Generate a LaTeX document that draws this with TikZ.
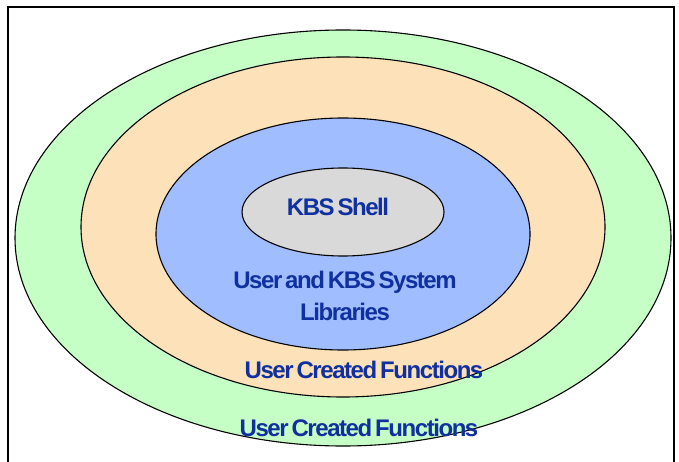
\documentclass[tikz,border=0pt]{standalone}
\usepackage{fontspec}
\setmainfont{Liberation Sans}
\newfontfamily\lblfont{Liberation Sans}[LetterSpace=-6,WordSpace=0.55]
\definecolor{ringgreen}{RGB}{198,255,198}
\definecolor{ringpeach}{RGB}{252,225,185}
\definecolor{ringblue}{RGB}{160,190,255}
\definecolor{coregray}{RGB}{217,217,217}
\definecolor{labelblue}{RGB}{16,48,160}
\tikzset{
  ring/.style={draw=black, line width=1.1pt},
  lbl/.style={text=labelblue, font=\lblfont\fontsize{24}{32}\selectfont\bfseries, align=center, inner sep=0pt}
}
\begin{document}
\begin{tikzpicture}[x=1pt,y=-1pt]
\useasboundingbox (0,0) rectangle (679,462);
\fill[white] (0,0) rectangle (679,462);
\draw[line width=2.5pt] (8,464) -- (8,7) -- (674,7) -- (674,464);
\filldraw[ring, fill=ringgreen] (343,238) ellipse [x radius=328, y radius=208];
\filldraw[ring, fill=ringpeach] (343,227) ellipse [x radius=262, y radius=170];
\filldraw[ring, fill=ringblue] (343,234) ellipse [x radius=187, y radius=116];
\filldraw[ring, fill=coregray] (343,212) ellipse [x radius=101, y radius=44];
\node[lbl] (shell) at (338,207) {KBS Shell};
\node[lbl] (libs) at (345,296) {User and KBS System\\Libraries};
\node[lbl] (inner) at (364,370) {User Created Functions};
\node[lbl] (outer) at (359,428) {User Created Functions};
\end{tikzpicture}
\end{document}
